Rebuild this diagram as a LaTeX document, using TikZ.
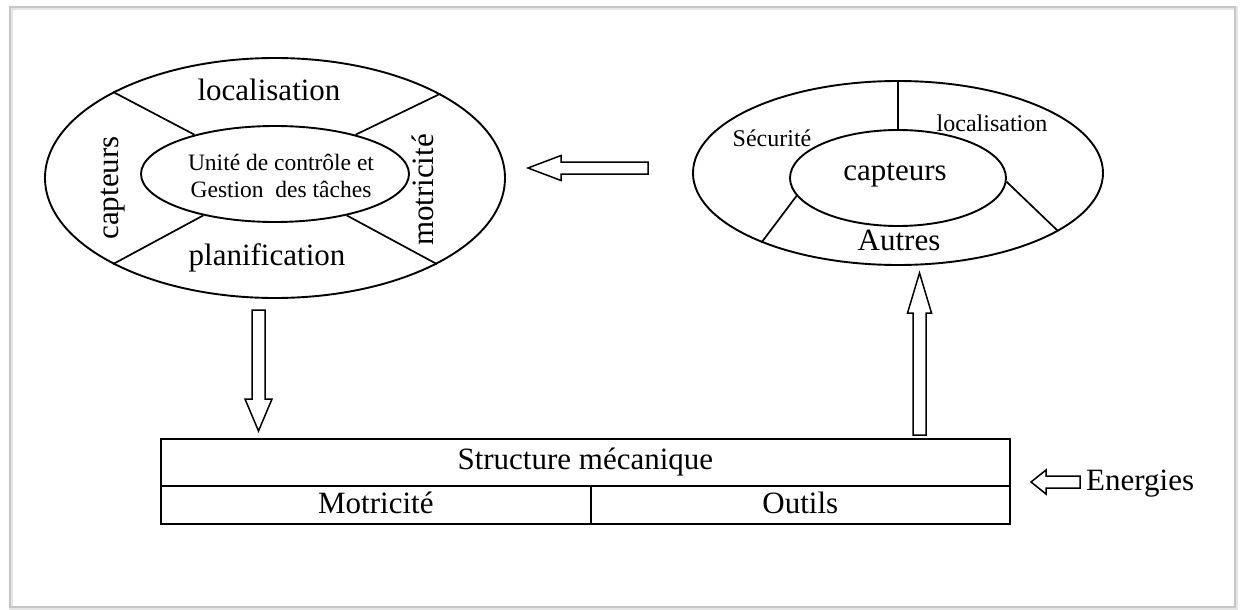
\documentclass[tikz,border=0pt]{standalone}
\usepackage{fontspec}
\setmainfont{Liberation Serif}
\usetikzlibrary{shapes.geometric}
\tikzset{
  ring/.style={draw, ellipse, inner sep=0pt, line width=1.9pt},
  divider/.style={line width=1.7pt},
  big/.style={font=\fontsize{31}{36}\selectfont, inner sep=0pt},
  mid/.style={font=\fontsize{24}{28}\selectfont, inner sep=0pt},
  small/.style={font=\fontsize{23.5}{27}\selectfont, inner sep=0pt, align=center},
  blockarrow/.style={draw, line width=1.5pt, fill=white, line join=miter},
  cell/.style={draw, line width=1.7pt}
}
\begin{document}
\begin{tikzpicture}[x=1pt,y=-1pt]
\useasboundingbox (0,0) rectangle (1240,610);
% frame with soft shadow
\draw[gray!20, line width=4pt] (11,8) rectangle (1236,609);
\draw[gray!45, line width=1.5pt] (10,7) rectangle (1235,607);

% left ellipse
\node[ring, minimum width=460pt, minimum height=240pt] (Lout) at (275,178) {};
\node[ring, minimum width=268pt, minimum height=96pt] (Lin) at (275,174) {};
\draw[divider] (Lout.152) -- (Lin.154);
\draw[divider] (Lout.27) -- (Lin.26);
\draw[divider] (Lout.208) -- (Lin.210);
\draw[divider] (Lout.332) -- (Lin.330);
\node[big] (lloc) at (269,90) {localisation};
\node[big] (lplan) at (267,258) {planification};
\node[big, rotate=90] (lcap) at (113,188) {capteurs};
\node[big, rotate=90] (lmot) at (423,190) {motricité};
\node[small] (lunit) at (281,176) {Unité de contrôle et\\Gestion\ \ des tâches};

% right ellipse
\node[ring, minimum width=410pt, minimum height=184pt] (Rout) at (898,173) {};
\node[ring, minimum width=216pt, minimum height=96pt] (Rin) at (898,178) {};
\draw[divider] (Rout.90) -- (Rin.90);
\draw[divider] (Rout.207) -- (Rin.190);
\draw[divider] (Rout.340.5) -- (Rin.358);
\node[mid] (rsec) at (772,138) {Sécurité};
\node[mid] (rloc) at (992,123) {localisation};
\node[big] (rcap) at (895,175) {capteurs};
\node[big] (raut) at (899,240) {Autres};

% mechanical structure
\node[cell, minimum width=849pt, minimum height=47pt, inner sep=0pt, anchor=north west] (struct) at (160,438) {};
\node[cell, minimum width=430pt, minimum height=38pt, inner sep=0pt, anchor=north west] (mot) at (160,485) {};
\node[cell, minimum width=419pt, minimum height=38pt, inner sep=0pt, anchor=north west] (out) at (590,485) {};
\node[big] at (struct.center) {Structure mécanique};
\node[big] at ([yshift=2pt]mot.center) {Motricité};
\node[big] at ([yshift=2pt]out.center) {Outils};
\node[big, anchor=west] (energ) at (1086,484) {Energies};

% block arrows
% right ellipse -> left ellipse
\draw[blockarrow] (648,162) -- (561,162) -- (561,155.5) -- (528,168) -- (561,180.5) -- (561,174) -- (648,174) -- cycle;
% left ellipse -> structure
\draw[blockarrow] (252,310) -- (252,399) -- (245,399) -- (258.5,431) -- (272,399) -- (265,399) -- (265,310) -- cycle;
% structure -> right ellipse
\draw[blockarrow] (913,435) -- (913,313) -- (907.5,313) -- (919.5,273) -- (931.5,313) -- (926,313) -- (926,435) -- cycle;
% energies arrow
\draw[blockarrow] (1080,476) -- (1046,476) -- (1046,470) -- (1031,482) -- (1046,494) -- (1046,488) -- (1080,488) -- cycle;
\end{tikzpicture}
\end{document}
